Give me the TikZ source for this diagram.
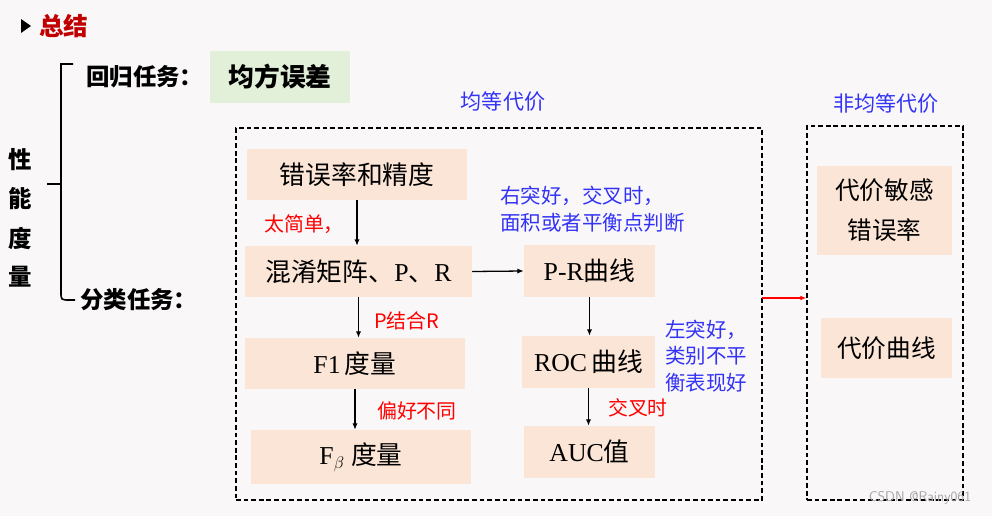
\documentclass[tikz,border=0pt]{standalone}
\usepackage{fontspec}
\setmainfont{Liberation Serif}
\newfontfamily\cjk{Noto Sans CJK SC}
\usepackage{xcolor}
\usepackage{tikz}
\usetikzlibrary{arrows.meta, positioning, calc}

\definecolor{peach}{HTML}{FBE5D6}
\definecolor{mint}{HTML}{E2F0D9}
\definecolor{paper}{HTML}{F9F7F8}
\definecolor{titlered}{HTML}{C00000}
\definecolor{noteblue}{HTML}{3333F5}
\newcommand{\zh}[1]{{\cjk #1}}

\begin{document}
\begin{tikzpicture}[x=0.03cm, y=-0.03cm,
  metric/.style={fill=peach, inner sep=0pt, font=\fontsize{22}{26}\selectfont, align=center},
  group/.style={draw, line width=1.2pt, dash pattern=on 4pt off 2.5pt, inner sep=0pt},
  flow/.style={-{Latex[length=5.5pt,width=4.5pt]}, line width=1.1pt},
  rednote/.style={text=red, font=\cjk\fontsize{17}{21}\selectfont},
  bluenote/.style={text=noteblue, font=\cjk\fontsize{17.5}{22.5}\selectfont, align=left},
  heading/.style={font=\cjk\bfseries\fontsize{20}{24}\selectfont}]
\useasboundingbox (0,0) rectangle (992,516);
\fill[paper] (0,0) rectangle (992,516);

% Title
\fill[black] (21,19) -- (31,26) -- (21,33) -- cycle;
\node[text=titlered, font=\cjk\bfseries\fontsize{21}{25}\selectfont, anchor=west] (title) at (35,26) {总结};

% Left side: bracket and labels
\foreach \i/\ch in {0/性, 1/能, 2/度, 3/量} {
   \node[font=\cjk\bfseries\fontsize{20}{24}\selectfont] (pm\i) at (20,160+\i*39) {\ch};
}
\draw[line width=1.4pt] (73,64) -- (61,64) -- (61,292) .. controls (61,300) .. (70,300) -- (75,300);
\draw[line width=1.4pt] (47,184) -- (61,184);
\node[heading, anchor=west] (reg) at (82,77) {回归任务：};
\node[heading, anchor=west] (cls) at (76,300) {分类任务：};
\node[fill=mint, minimum width=4.2cm, minimum height=1.56cm, inner sep=0pt,
      font=\cjk\bfseries\fontsize{22}{26}\selectfont] (mse) at (280,77) {均方误差};

% Equal cost
\node[group, minimum width=15.78cm, minimum height=11.16cm] (eq) at (499,314) {};
\node[text=noteblue, font=\cjk\fontsize{18}{22}\selectfont] (eqlab) at (503,102) {均等代价};

\node[metric, minimum width=6.6cm, minimum height=1.53cm] (err) at (357,174.5) {\zh{错误率和精度}};
\node[metric, minimum width=6.81cm, minimum height=1.53cm] (conf) at (358.5,271.5) {\zh{混淆矩阵、}P\zh{、}R};
\node[metric, minimum width=6.6cm, minimum height=1.53cm] (f1) at (355,363.5) {F1\,\zh{度量}};
\node[metric, minimum width=6.6cm, minimum height=1.62cm] (fb) at (361,457) {F$_{\beta}$\ \zh{度量}};
\node[metric, minimum width=3.93cm, minimum height=1.56cm] (pr) at (589.5,271) {P-R\zh{曲线}};
\node[metric, minimum width=3.99cm, minimum height=1.56cm] (roc) at (588.5,362) {ROC\,\zh{曲线}};
\node[metric, minimum width=3.93cm, minimum height=1.56cm] (auc) at (589.5,452) {AUC\zh{值}};

\draw[flow] (err.south) -- (err.south |- conf.north);
\draw[flow] (conf.south) -- (conf.south |- f1.north);
\draw[flow] (f1.south) -- (f1.south |- fb.north);
\draw[flow] (conf.east) -- (pr.west);
\draw[flow] (pr.south) -- (pr.south |- roc.north);
\draw[flow] (roc.south) -- (roc.south |- auc.north);

\node[rednote] (simple) at (304,224) {太简单，};
\node[rednote, anchor=west] (comb) at (370,321) {P结合R};
\node[rednote, anchor=west] (pref) at (373,411) {偏好不同};
\node[rednote, anchor=west] (cross) at (604,408) {交叉时};
\node[bluenote, anchor=west] (prnote) at (496,209) {右突好，交叉时，\\面积或者平衡点判断};
\node[bluenote, anchor=west] (rocnote) at (661,356) {左突好，\\类别不平\\衡表现好};

% Unequal cost
\node[group, minimum width=4.68cm, minimum height=11.22cm] (neq) at (885,313) {};
\node[text=noteblue, font=\cjk\fontsize{18}{22}\selectfont] (neqlab) at (886,104) {非均等代价};
\node[metric, minimum width=4.05cm, minimum height=2.67cm, font=\cjk\fontsize{21}{34}\selectfont] (cse) at (884.5,210.5) {代价敏感\\错误率};
\node[metric, minimum width=3.93cm, minimum height=1.8cm, font=\cjk\fontsize{21}{26}\selectfont] (cc) at (886.5,348) {代价曲线};

\coordinate (link) at (762,298);
\draw[-{Latex[length=5pt,width=4pt]}, red, line width=1.2pt] (link) -- (link -| neq.west);

\node[text=black!35, font=\fontsize{12}{14}\selectfont\sffamily] (mark) at (920,498) {CSDN @Rainy061};
\end{tikzpicture}
\end{document}
